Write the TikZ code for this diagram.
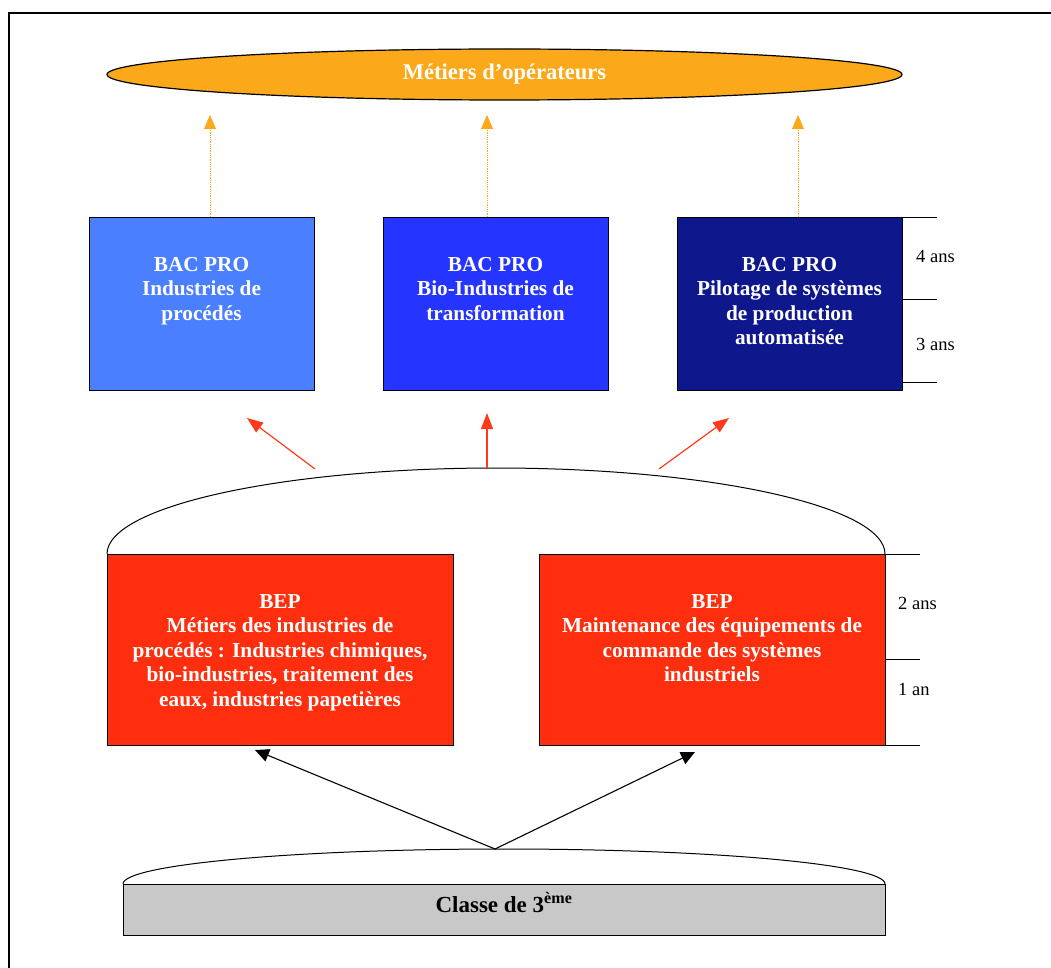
\documentclass[tikz,border=0pt]{standalone}
\usepackage{fontspec}
\setmainfont{Liberation Serif}
\usetikzlibrary{positioning, arrows.meta, shapes.geometric}
\definecolor{metierorange}{HTML}{FBA91A}
\definecolor{bacbleu}{HTML}{4A80FF}
\definecolor{bacbleuvif}{HTML}{2634FF}
\definecolor{bacnuit}{HTML}{0E188C}
\definecolor{beprouge}{HTML}{FF2E0E}
\definecolor{fleche}{HTML}{FF3A1C}
\definecolor{classegris}{HTML}{C8C8C8}

\begin{document}
\begin{tikzpicture}[x=1pt, y=-1pt,
  bacbox/.style={draw, line width=0.8pt, minimum width=225pt, minimum height=173pt,
    inner sep=0pt, outer sep=0pt},
  bepbox/.style={draw, line width=0.8pt, fill=beprouge, minimum width=346pt,
    minimum height=191pt, inner sep=0pt, outer sep=0pt},
  boxtext/.style={text=white, font=\bfseries\fontsize{21.3}{24.5}\selectfont,
    align=center, anchor=north, inner sep=0pt},
  duree/.style={font=\fontsize{18.5}{20}\selectfont, anchor=west, inner sep=0pt},
  tick/.style={line width=0.8pt},
  orangearrow/.style={densely dotted, color=metierorange, line width=0.8pt,
    -{Triangle[width=12pt,length=14pt]}},
  redarrow/.style={color=fleche, line width=1.2pt, -{Triangle[width=12pt,length=16pt]}},
  blackarrow/.style={line width=1.1pt, -{Triangle[width=13pt,length=14pt]}}]

\useasboundingbox (0,0) rectangle (1051,968);
\draw[line width=1.6pt] (1060,13) -- (9,13) -- (9,980);

\node[ellipse, draw, line width=1.2pt, fill=metierorange, minimum width=795pt,
  minimum height=51pt, inner sep=0pt, text=white,
  font=\bfseries\fontsize{22.5}{24}\selectfont] (metiers) at (504.5,74.5) {Métiers d’opérateurs};

\node[bacbox, fill=bacbleu, anchor=north west] (bac1) at (89,217) {};
\node[bacbox, fill=bacbleuvif, right=69pt of bac1] (bac2) {};
\node[bacbox, fill=bacnuit, right=69pt of bac2] (bac3) {};

\node[boxtext] at ([yshift=-40pt]bac1.north) {BAC PRO\\Industries de\\procédés};
\node[boxtext] at ([yshift=-40pt]bac2.north) {BAC PRO\\Bio-Industries de\\transformation};
\node[boxtext] at ([yshift=-40pt]bac3.north) {BAC PRO\\Pilotage de systèmes\\de production\\automatisée};

\coordinate (o1) at (210,115);
\coordinate (o2) at (487,115);
\coordinate (o3) at (798,115);
\draw[orangearrow] (bac1.north -| o1) -- (o1);
\draw[orangearrow] (bac2.north -| o2) -- (o2);
\draw[orangearrow] (bac3.north -| o3) -- (o3);

\draw[tick] (bac3.north east) -- ++(35,0);
\draw[tick] (bac3.east |- 0,299) -- ++(35,0);
\draw[tick] (bac3.east |- 0,382) -- ++(35,0);
\node[duree] at (916,257) {4 ans};
\node[duree] at (916,344) {3 ans};

\node[bepbox, anchor=north west] (bep1) at (107,554) {};
\node[bepbox, right=86pt of bep1] (bep2) {};

\node[boxtext] at ([yshift=-40pt]bep1.north) {BEP\\Métiers des industries de\\procédés : Industries chimiques,\\bio-industries, traitement des\\eaux, industries papetières};
\node[boxtext] at ([yshift=-40pt]bep2.north) {BEP\\Maintenance des équipements de\\commande des systèmes\\industriels};

\draw[line width=1pt] (bep1.north west) arc[start angle=180, end angle=0, x radius=389pt, y radius=86pt];

\coordinate (r1) at (315,469);
\coordinate (r2) at (487,468);
\coordinate (r3) at (659,469);
\coordinate (t1) at (247,418);
\coordinate (t2) at (487,413);
\coordinate (t3) at (729,418);
\draw[redarrow] (r1) -- (t1);
\draw[redarrow] (r2) -- (t2);
\draw[redarrow] (r3) -- (t3);

\draw[tick] (bep2.north east) -- ++(35,0);
\draw[tick] (bep2.east |- 0,659) -- ++(35,0);
\draw[tick] (bep2.south east) -- ++(35,0);
\node[duree] at (898,603) {2 ans};
\node[duree] at (898,689) {1 an};

\node[draw, line width=1pt, fill=classegris, minimum width=762pt, minimum height=51pt,
  inner sep=0pt, outer sep=0pt, anchor=north west, text depth=14pt,
  font=\bfseries\fontsize{23}{25}\selectfont] (classe) at (123,884) {Classe de 3\textsuperscript{ème}};
\draw[line width=1pt] (classe.north west) arc[start angle=180, end angle=0, x radius=381pt, y radius=35pt];

\coordinate (depart) at (495,849);
\coordinate (vers1) at (255,750);
\coordinate (vers2) at (695,752);
\draw[blackarrow] (depart) -- (vers1);
\draw[blackarrow] (depart) -- (vers2);
\end{tikzpicture}
\end{document}
